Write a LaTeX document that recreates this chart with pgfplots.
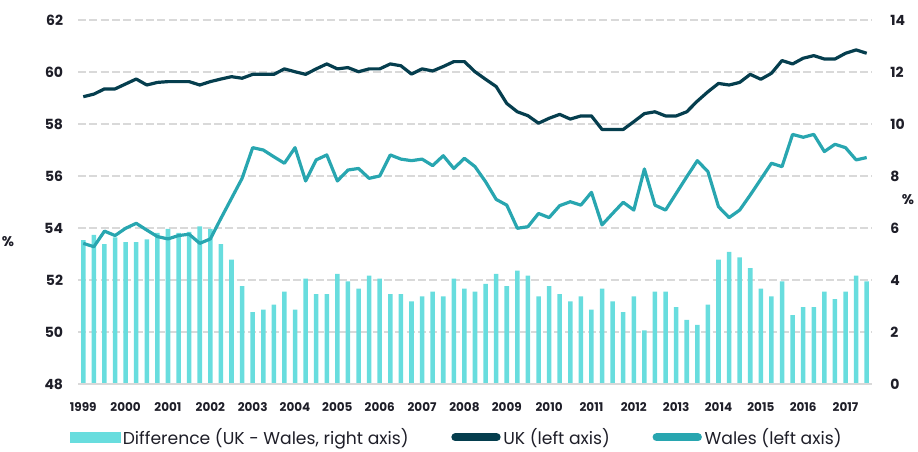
\documentclass[border=0pt]{standalone}
\usepackage{pgfplots}
\pgfplotsset{compat=1.18}
\usepackage{pgfplotstable}
\usepackage{fontspec}
\setmainfont{Poppins}

\definecolor{barc}{RGB}{104,221,222}
\definecolor{ukc}{RGB}{5,62,78}
\definecolor{walesc}{RGB}{40,166,176}
\definecolor{gridc}{RGB}{217,217,217}
\definecolor{txt}{RGB}{30,30,40}

% quarterly, 1999 Q1 (i=0) to 2017 Q3 (i=74)
\pgfplotstableread{
i diff uk wales
0 5.53 59.05 53.41
1 5.74 59.15 53.28
2 5.38 59.35 53.88
3 5.64 59.35 53.71
4 5.46 59.54 53.99
5 5.46 59.73 54.18
6 5.56 59.50 53.92
7 5.81 59.60 53.67
8 5.97 59.63 53.58
9 5.81 59.63 53.71
10 5.85 59.63 53.76
11 6.06 59.50 53.41
12 5.97 59.63 53.58
13 5.38 59.73 54.37
14 4.78 59.82 55.14
15 3.76 59.76 55.91
16 2.76 59.91 57.09
17 2.86 59.91 57.00
18 3.05 59.91 56.74
19 3.55 60.12 56.49
20 2.86 60.01 57.09
21 4.05 59.91 55.81
22 3.46 60.12 56.62
23 3.46 60.31 56.81
24 4.24 60.12 55.81
25 3.95 60.17 56.23
26 3.67 60.01 56.29
27 4.17 60.12 55.91
28 4.05 60.12 56.00
29 3.46 60.31 56.81
30 3.46 60.24 56.65
31 3.18 59.92 56.59
32 3.37 60.12 56.65
33 3.55 60.04 56.40
34 3.37 60.21 56.78
35 4.05 60.40 56.29
36 3.67 60.40 56.68
37 3.55 60.01 56.36
38 3.85 59.72 55.78
39 4.24 59.44 55.10
40 3.76 58.79 54.88
41 4.36 58.47 53.99
42 4.17 58.32 54.05
43 3.37 58.03 54.56
44 3.76 58.22 54.40
45 3.46 58.37 54.86
46 3.18 58.19 55.01
47 3.37 58.31 54.88
48 2.86 58.31 55.37
49 3.67 57.79 54.12
50 3.18 57.79 54.56
51 2.76 57.79 54.99
52 3.37 58.09 54.69
53 2.06 58.40 56.27
54 3.55 58.47 54.88
55 3.55 58.31 54.69
56 2.96 58.31 55.33
57 2.47 58.47 55.97
58 2.27 58.88 56.59
59 3.05 59.24 56.17
60 4.78 59.56 54.82
61 5.08 59.50 54.40
62 4.87 59.60 54.69
63 4.46 59.91 55.27
64 3.67 59.72 55.88
65 3.37 59.95 56.49
66 3.95 60.44 56.36
67 2.65 60.31 57.60
68 2.96 60.53 57.49
69 2.96 60.63 57.60
70 3.55 60.50 56.94
71 3.26 60.50 57.22
72 3.55 60.72 57.09
73 4.17 60.85 56.62
74 3.95 60.72 56.71
}\data

\pgfplotsset{
  base/.style={
    scale only axis, width=595.5pt, height=273pt,
    xmin=-0.5, xmax=74.5,
    axis line style={draw=none},
    major tick length=0pt,
    tick label style={font=\fontsize{10.5}{12}\selectfont\bfseries, text=txt},
    /pgf/number format/assume math mode=true,
  },
}

\begin{document}
\begin{tikzpicture}
  % right axis: difference bars
  \begin{axis}[base, name=ax,
      ymin=0, ymax=14, ytick={0,2,...,14},
      yticklabel pos=right,
      yticklabel style={anchor=west, inner sep=0pt, xshift=13.5pt},
      xtick={0,4,...,72},
      xticklabels={1999,2000,2001,2002,2003,2004,2005,2006,2007,2008,2009,2010,2011,2012,2013,2014,2015,2016,2017},
      xticklabel style={font=\fontsize{9}{10}\selectfont\bfseries, anchor=north, inner sep=0pt, yshift=-13.5pt},
      ymajorgrids=true,
      grid style={gridc, line width=1pt, dash pattern=on 6pt off 2.5pt},
    ]
    \addplot[ybar, bar width=3.4pt, fill=barc, draw=none] table[x=i, y=diff] {\data};
    \draw[gridc, line width=1.1pt] (rel axis cs:0,0) -- (rel axis cs:1,0);
  \end{axis}
  % left axis: UK and Wales
  \begin{axis}[base,
      ymin=48, ymax=62, ytick={48,50,...,62},
      yticklabel pos=left,
      yticklabel style={anchor=east, inner sep=0pt, xshift=-11pt},
      xtick=\empty,
      legend columns=3,
      legend style={draw=none, fill=none, at={(axis description cs:0,0)}, anchor=west,
        xshift=-6pt, yshift=-40pt, inner sep=0pt,
        font=\fontsize{12.9}{14}\selectfont, text=txt,
        /tikz/every even column/.append style={column sep=30pt}},
      legend cell align=left,
    ]
    \addlegendimage{legend image code/.code={\fill[barc] (0pt,-4pt) rectangle (37pt,4pt);}}
    \addlegendentry{Difference (UK - Wales, right axis)}
    \addplot[ukc, line width=2.4pt, line join=round, mark=none,
      legend image code/.code={\draw[ukc, line width=6pt, line cap=round] (3pt,0pt) -- (34pt,0pt);}]
      table[x=i, y=uk] {\data};
    \addlegendentry{UK (left axis)}
    \addplot[walesc, line width=2.4pt, line join=round, mark=none,
      legend image code/.code={\draw[walesc, line width=6pt, line cap=round] (3pt,0pt) -- (34pt,0pt);}]
      table[x=i, y=wales] {\data};
    \addlegendentry{Wales (left axis)}
  \end{axis}
  \node[font=\fontsize{10.5}{12}\selectfont\bfseries, text=txt] at ([xshift=-52.5pt, yshift=106.5pt]ax.south west) {\%};
  \node[font=\fontsize{10.5}{12}\selectfont\bfseries, text=txt] at ([xshift=27pt, yshift=138pt]ax.south east) {\%};
  \pgfresetboundingbox
  \path[use as bounding box] ([xshift=-58.5pt, yshift=-50.25pt]ax.south west) rectangle ([xshift=34.5pt, yshift=15pt]ax.north east);
\end{tikzpicture}
\end{document}
